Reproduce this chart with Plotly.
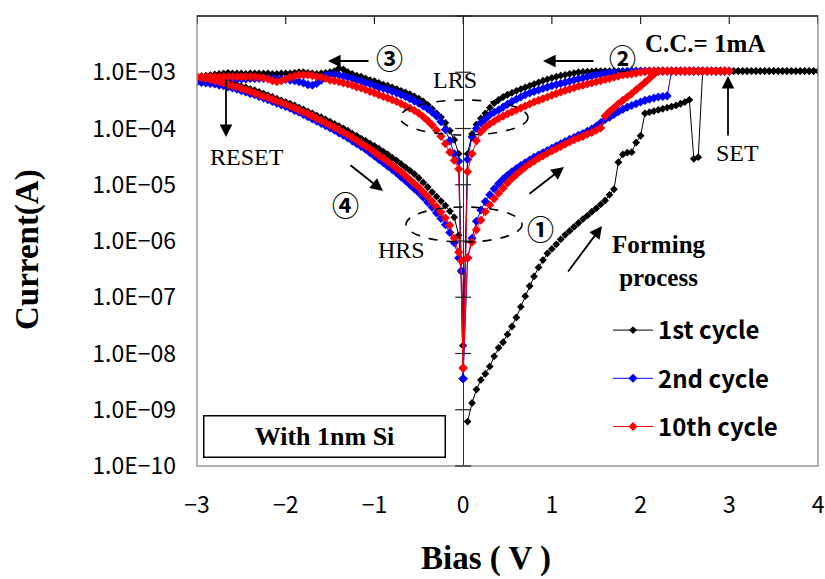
import plotly.graph_objects as go

# ---------------------------------------------------------------------------
# I-V sweeps of the resistive switching cell (with 1 nm Si).
# Each segment is a list of (bias [V], log10(current [A])) pairs,
# listed in measurement order.
# ---------------------------------------------------------------------------

# 1st cycle: forming sweep 0 -> 4 V, LRS return, negative LRS sweep, HRS return
FORMING_1ST = [
    (0.05, -9.21), (0.10, -8.88), (0.15, -8.64), (0.20, -8.47), (0.25, -8.36), (0.30, -8.23),
    (0.35, -8.05), (0.40, -7.90), (0.45, -7.80), (0.50, -7.66), (0.55, -7.52), (0.60, -7.36),
    (0.65, -7.17), (0.70, -6.98), (0.75, -6.80), (0.80, -6.63), (0.85, -6.47), (0.90, -6.34),
    (0.95, -6.22), (1.00, -6.14), (1.05, -6.06), (1.10, -5.97), (1.15, -5.89), (1.20, -5.82),
    (1.25, -5.75), (1.30, -5.68), (1.35, -5.61), (1.40, -5.55), (1.45, -5.48), (1.50, -5.42),
    (1.55, -5.35), (1.60, -5.28), (1.65, -5.18), (1.70, -5.08), (1.75, -4.60), (1.80, -4.46),
    (1.85, -4.43), (1.90, -4.42), (1.95, -4.25), (2.00, -4.13), (2.05, -3.73), (2.10, -3.71),
    (2.15, -3.69), (2.20, -3.67), (2.25, -3.65), (2.30, -3.63), (2.35, -3.61), (2.40, -3.59),
    (2.45, -3.56), (2.50, -3.53), (2.55, -3.49), (2.60, -4.54), (2.65, -4.51), (2.70, -2.98),
    (2.75, -2.98), (2.80, -2.98), (2.85, -2.98), (2.90, -2.98), (2.95, -2.98), (3.00, -2.98),
    (3.05, -2.98), (3.10, -2.98), (3.15, -2.98), (3.20, -2.98), (3.25, -2.98), (3.30, -2.98),
    (3.35, -2.98), (3.40, -2.98), (3.45, -2.98), (3.50, -2.98), (3.55, -2.98), (3.60, -2.98),
    (3.65, -2.98), (3.70, -2.98), (3.75, -2.98), (3.80, -2.98), (3.85, -2.98), (3.90, -2.98),
    (3.95, -2.98), (4.00, -2.98),
]
LRS_POS_1ST = [
    (3.95, -2.98), (3.90, -2.98), (3.85, -2.98), (3.80, -2.98), (3.75, -2.98), (3.70, -2.98),
    (3.65, -2.98), (3.60, -2.98), (3.55, -2.98), (3.50, -2.98), (3.45, -2.98), (3.40, -2.98),
    (3.35, -2.98), (3.30, -2.98), (3.25, -2.98), (3.20, -2.98), (3.15, -2.98), (3.10, -2.98),
    (3.05, -2.98), (3.00, -2.98), (2.95, -2.98), (2.90, -2.98), (2.85, -2.98), (2.80, -2.98),
    (2.75, -2.98), (2.70, -2.98), (2.65, -2.98), (2.60, -2.98), (2.55, -2.98), (2.50, -2.98),
    (2.45, -2.98), (2.40, -2.98), (2.35, -2.98), (2.30, -2.98), (2.25, -2.98), (2.20, -2.98),
    (2.15, -2.98), (2.10, -2.98), (2.05, -2.98), (2.00, -2.98), (1.95, -2.98), (1.90, -2.98),
    (1.85, -2.98), (1.80, -2.98), (1.75, -2.98), (1.70, -2.98), (1.65, -2.98), (1.60, -2.98),
    (1.55, -2.98), (1.50, -2.98), (1.45, -2.985), (1.40, -2.99), (1.35, -2.995), (1.30, -3.00),
    (1.25, -3.015), (1.20, -3.03), (1.15, -3.045), (1.10, -3.06), (1.05, -3.08), (1.00, -3.10),
    (0.95, -3.125), (0.90, -3.15), (0.85, -3.18), (0.80, -3.21), (0.75, -3.24), (0.70, -3.27),
    (0.65, -3.30), (0.60, -3.33), (0.55, -3.365), (0.50, -3.40), (0.45, -3.44), (0.40, -3.49),
    (0.35, -3.55), (0.30, -3.63), (0.25, -3.73), (0.20, -3.82), (0.15, -3.93), (0.10, -4.10),
    (0.05, -4.45), (0.00, -7.86),
]
LRS_NEG_1ST = [
    (-0.05, -4.45), (-0.10, -4.20), (-0.15, -4.04), (-0.20, -3.90), (-0.25, -3.80), (-0.30, -3.73),
    (-0.35, -3.65), (-0.40, -3.58), (-0.45, -3.52), (-0.50, -3.47), (-0.55, -3.43), (-0.60, -3.39),
    (-0.65, -3.36), (-0.70, -3.33), (-0.75, -3.30), (-0.80, -3.27), (-0.85, -3.24), (-0.90, -3.22),
    (-0.95, -3.19), (-1.00, -3.16), (-1.05, -3.14), (-1.10, -3.11), (-1.15, -3.08), (-1.20, -3.06),
    (-1.25, -3.03), (-1.30, -3.00), (-1.35, -2.95), (-1.40, -2.93), (-1.45, -2.98), (-1.50, -3.00),
    (-1.55, -3.01), (-1.60, -3.02), (-1.65, -3.03), (-1.70, -3.02), (-1.75, -3.01), (-1.80, -3.00),
    (-1.85, -3.00), (-1.90, -3.01), (-1.95, -3.02), (-2.00, -3.02), (-2.05, -3.02), (-2.10, -3.03),
    (-2.15, -3.03), (-2.20, -3.02), (-2.25, -3.02), (-2.30, -3.02), (-2.35, -3.02), (-2.40, -3.02),
    (-2.45, -3.03), (-2.50, -3.02), (-2.55, -3.02), (-2.60, -3.02), (-2.65, -3.01), (-2.70, -3.02),
    (-2.75, -3.03), (-2.80, -3.04), (-2.85, -3.05), (-2.90, -3.06), (-2.95, -3.07), (-3.00, -3.08),
]
HRS_NEG_1ST = [
    (-3.00, -3.08), (-2.95, -3.09), (-2.90, -3.10), (-2.85, -3.11), (-2.80, -3.13), (-2.75, -3.14),
    (-2.70, -3.16), (-2.65, -3.18), (-2.60, -3.20), (-2.55, -3.22), (-2.50, -3.25), (-2.45, -3.27),
    (-2.40, -3.30), (-2.35, -3.32), (-2.30, -3.35), (-2.25, -3.38), (-2.20, -3.41), (-2.15, -3.44),
    (-2.10, -3.47), (-2.05, -3.50), (-2.00, -3.53), (-1.95, -3.56), (-1.90, -3.59), (-1.85, -3.63),
    (-1.80, -3.66), (-1.75, -3.70), (-1.70, -3.73), (-1.65, -3.77), (-1.60, -3.80), (-1.55, -3.84),
    (-1.50, -3.88), (-1.45, -3.92), (-1.40, -3.96), (-1.35, -4.00), (-1.30, -4.04), (-1.25, -4.09),
    (-1.20, -4.13), (-1.15, -4.18), (-1.10, -4.22), (-1.05, -4.27), (-1.00, -4.31), (-0.95, -4.36),
    (-0.90, -4.41), (-0.85, -4.46), (-0.80, -4.52), (-0.75, -4.57), (-0.70, -4.63), (-0.65, -4.69),
    (-0.60, -4.75), (-0.55, -4.81), (-0.50, -4.88), (-0.45, -4.96), (-0.40, -5.04), (-0.35, -5.13),
    (-0.30, -5.21), (-0.25, -5.29), (-0.20, -5.37), (-0.15, -5.47), (-0.10, -5.58), (-0.05, -5.90),
    (-0.02, -6.55), (0.00, -7.86),
]

# 2nd cycle
HRS_POS_2ND = [
    (0.00, -8.45), (0.05, -6.30), (0.10, -5.95), (0.15, -5.65), (0.20, -5.45), (0.25, -5.30),
    (0.30, -5.18), (0.35, -5.07), (0.40, -4.98), (0.45, -4.90), (0.50, -4.83), (0.55, -4.77),
    (0.60, -4.71), (0.65, -4.66), (0.70, -4.61), (0.75, -4.56), (0.80, -4.51), (0.85, -4.47),
    (0.90, -4.43), (0.95, -4.39), (1.00, -4.35), (1.05, -4.31), (1.10, -4.27), (1.15, -4.23),
    (1.20, -4.19), (1.25, -4.16), (1.30, -4.12), (1.35, -4.09), (1.40, -4.05), (1.45, -4.01),
    (1.50, -3.96), (1.55, -3.90), (1.60, -3.84), (1.65, -3.80), (1.70, -3.75), (1.75, -3.70),
    (1.80, -3.66), (1.85, -3.62), (1.90, -3.59), (1.95, -3.56), (2.00, -3.53), (2.05, -3.50),
    (2.10, -3.48), (2.15, -3.46), (2.20, -3.44), (2.25, -3.43), (2.30, -3.42), (2.35, -2.98),
    (2.40, -2.98), (2.45, -2.98), (2.50, -2.98), (2.55, -2.98), (2.60, -2.98), (2.65, -2.98),
    (2.70, -2.98), (2.75, -2.98), (2.80, -2.98), (2.85, -2.98), (2.90, -2.98), (2.95, -2.98),
    (3.00, -2.98),
]
LRS_POS_2ND = [
    (2.95, -2.98), (2.90, -2.98), (2.85, -2.98), (2.80, -2.98), (2.75, -2.98), (2.70, -2.98),
    (2.65, -2.98), (2.60, -2.98), (2.55, -2.98), (2.50, -2.98), (2.45, -2.98), (2.40, -2.98),
    (2.35, -2.98), (2.30, -2.98), (2.25, -2.98), (2.20, -2.98), (2.15, -2.98), (2.10, -2.98),
    (2.05, -2.98), (2.00, -2.98), (1.95, -2.98), (1.90, -2.98), (1.85, -2.985), (1.80, -2.99),
    (1.75, -2.995), (1.70, -3.00), (1.65, -3.01), (1.60, -3.02), (1.55, -3.035), (1.50, -3.05),
    (1.45, -3.065), (1.40, -3.08), (1.35, -3.10), (1.30, -3.12), (1.25, -3.14), (1.20, -3.16),
    (1.15, -3.18), (1.10, -3.20), (1.05, -3.22), (1.00, -3.24), (0.95, -3.265), (0.90, -3.29),
    (0.85, -3.315), (0.80, -3.34), (0.75, -3.37), (0.70, -3.40), (0.65, -3.44), (0.60, -3.48),
    (0.55, -3.52), (0.50, -3.57), (0.45, -3.62), (0.40, -3.67), (0.35, -3.71), (0.30, -3.76),
    (0.25, -3.83), (0.20, -3.90), (0.15, -4.00), (0.10, -4.15), (0.05, -4.55), (0.00, -8.45),
]
LRS_NEG_2ND = [
    (-0.05, -4.58), (-0.10, -4.45), (-0.15, -4.22), (-0.20, -4.02), (-0.25, -3.88), (-0.30, -3.78),
    (-0.35, -3.71), (-0.40, -3.65), (-0.45, -3.60), (-0.50, -3.55), (-0.55, -3.51), (-0.60, -3.47),
    (-0.65, -3.43), (-0.70, -3.40), (-0.75, -3.37), (-0.80, -3.34), (-0.85, -3.31), (-0.90, -3.29),
    (-0.95, -3.27), (-1.00, -3.24), (-1.05, -3.21), (-1.10, -3.19), (-1.15, -3.16), (-1.20, -3.14),
    (-1.25, -3.11), (-1.30, -3.09), (-1.35, -3.07), (-1.40, -3.05), (-1.45, -3.04), (-1.50, -3.04),
    (-1.55, -3.06), (-1.60, -3.14), (-1.65, -3.20), (-1.70, -3.23), (-1.75, -3.22), (-1.80, -3.19),
    (-1.85, -3.17), (-1.90, -3.15), (-1.95, -3.14), (-2.00, -3.13), (-2.05, -3.12), (-2.10, -3.12),
    (-2.15, -3.11), (-2.20, -3.11), (-2.25, -3.11), (-2.30, -3.11), (-2.35, -3.11), (-2.40, -3.11),
    (-2.45, -3.12), (-2.50, -3.12), (-2.55, -3.12), (-2.60, -3.12), (-2.65, -3.13), (-2.70, -3.13),
    (-2.75, -3.14), (-2.80, -3.14), (-2.85, -3.15), (-2.90, -3.15), (-2.95, -3.16), (-3.00, -3.17),
]
HRS_NEG_2ND = [
    (-3.00, -3.17), (-2.95, -3.18), (-2.90, -3.19), (-2.85, -3.20), (-2.80, -3.21), (-2.75, -3.23),
    (-2.70, -3.24), (-2.65, -3.26), (-2.60, -3.28), (-2.55, -3.30), (-2.50, -3.33), (-2.45, -3.35),
    (-2.40, -3.38), (-2.35, -3.40), (-2.30, -3.43), (-2.25, -3.46), (-2.20, -3.49), (-2.15, -3.52),
    (-2.10, -3.55), (-2.05, -3.58), (-2.00, -3.61), (-1.95, -3.64), (-1.90, -3.68), (-1.85, -3.71),
    (-1.80, -3.75), (-1.75, -3.79), (-1.70, -3.83), (-1.65, -3.87), (-1.60, -3.91), (-1.55, -3.95),
    (-1.50, -3.99), (-1.45, -4.03), (-1.40, -4.08), (-1.35, -4.12), (-1.30, -4.17), (-1.25, -4.22),
    (-1.20, -4.27), (-1.15, -4.32), (-1.10, -4.37), (-1.05, -4.43), (-1.00, -4.49), (-0.95, -4.55),
    (-0.90, -4.61), (-0.85, -4.67), (-0.80, -4.73), (-0.75, -4.79), (-0.70, -4.86), (-0.65, -4.93),
    (-0.60, -5.00), (-0.55, -5.07), (-0.50, -5.14), (-0.45, -5.22), (-0.40, -5.31), (-0.35, -5.40),
    (-0.30, -5.50), (-0.25, -5.60), (-0.20, -5.71), (-0.15, -5.85), (-0.10, -6.03), (-0.05, -6.30),
    (-0.02, -6.53), (0.00, -8.45),
]

# 10th cycle
HRS_POS_10TH = [
    (0.00, -8.26), (0.05, -6.30), (0.10, -6.02), (0.15, -5.80), (0.20, -5.63), (0.25, -5.48),
    (0.30, -5.36), (0.35, -5.25), (0.40, -5.15), (0.45, -5.06), (0.50, -4.97), (0.55, -4.89),
    (0.60, -4.82), (0.65, -4.75), (0.70, -4.69), (0.75, -4.63), (0.80, -4.58), (0.85, -4.53),
    (0.90, -4.49), (0.95, -4.44), (1.00, -4.40), (1.05, -4.36), (1.10, -4.32), (1.15, -4.28),
    (1.20, -4.24), (1.25, -4.20), (1.30, -4.17), (1.35, -4.14), (1.40, -4.10), (1.45, -4.07),
    (1.50, -4.03), (1.55, -3.99), (1.60, -3.78), (1.65, -3.70), (1.70, -3.63), (1.75, -3.56),
    (1.80, -3.50), (1.85, -3.44), (1.90, -3.38), (1.95, -3.31), (2.00, -3.25), (2.05, -3.18),
    (2.10, -3.11), (2.15, -3.04), (2.20, -2.98), (2.25, -2.98), (2.30, -2.98), (2.35, -2.98),
    (2.40, -2.98), (2.45, -2.98), (2.50, -2.98), (2.55, -2.98), (2.60, -2.98), (2.65, -2.98),
    (2.70, -2.98), (2.75, -2.98), (2.80, -2.98), (2.85, -2.98), (2.90, -2.98), (2.95, -2.98),
    (3.00, -2.98),
]
LRS_POS_10TH = [
    (2.95, -2.98), (2.90, -2.98), (2.85, -2.98), (2.80, -2.98), (2.75, -2.98), (2.70, -2.98),
    (2.65, -2.98), (2.60, -2.98), (2.55, -2.98), (2.50, -2.98), (2.45, -2.98), (2.40, -2.98),
    (2.35, -2.98), (2.30, -2.98), (2.25, -2.98), (2.20, -2.98), (2.15, -2.98), (2.10, -2.98),
    (2.05, -2.99), (2.00, -3.00), (1.95, -3.015), (1.90, -3.03), (1.85, -3.04), (1.80, -3.05),
    (1.75, -3.07), (1.70, -3.09), (1.65, -3.11), (1.60, -3.13), (1.55, -3.15), (1.50, -3.17),
    (1.45, -3.19), (1.40, -3.21), (1.35, -3.23), (1.30, -3.25), (1.25, -3.275), (1.20, -3.30),
    (1.15, -3.325), (1.10, -3.35), (1.05, -3.38), (1.00, -3.41), (0.95, -3.44), (0.90, -3.47),
    (0.85, -3.50), (0.80, -3.53), (0.75, -3.565), (0.70, -3.60), (0.65, -3.635), (0.60, -3.67),
    (0.55, -3.705), (0.50, -3.74), (0.45, -3.78), (0.40, -3.82), (0.35, -3.87), (0.30, -3.92),
    (0.25, -3.98), (0.20, -4.06), (0.15, -4.22), (0.10, -4.45), (0.05, -4.77), (0.00, -8.26),
]
LRS_NEG_10TH = [
    (-0.05, -4.72), (-0.10, -4.57), (-0.15, -4.42), (-0.20, -4.27), (-0.25, -4.14), (-0.30, -4.03),
    (-0.35, -3.94), (-0.40, -3.86), (-0.45, -3.79), (-0.50, -3.73), (-0.55, -3.68), (-0.60, -3.64),
    (-0.65, -3.60), (-0.70, -3.56), (-0.75, -3.52), (-0.80, -3.49), (-0.85, -3.46), (-0.90, -3.43),
    (-0.95, -3.40), (-1.00, -3.37), (-1.05, -3.34), (-1.10, -3.31), (-1.15, -3.28), (-1.20, -3.26),
    (-1.25, -3.23), (-1.30, -3.21), (-1.35, -3.19), (-1.40, -3.17), (-1.45, -3.15), (-1.50, -3.14),
    (-1.55, -3.11), (-1.60, -3.09), (-1.65, -3.08), (-1.70, -3.06), (-1.75, -3.05), (-1.80, -3.05),
    (-1.85, -3.05), (-1.90, -3.07), (-1.95, -3.09), (-2.00, -3.12), (-2.05, -3.15), (-2.10, -3.17),
    (-2.15, -3.15), (-2.20, -3.12), (-2.25, -3.10), (-2.30, -3.09), (-2.35, -3.08), (-2.40, -3.08),
    (-2.45, -3.08), (-2.50, -3.08), (-2.55, -3.08), (-2.60, -3.08), (-2.65, -3.08), (-2.70, -3.08),
    (-2.75, -3.08), (-2.80, -3.08), (-2.85, -3.08), (-2.90, -3.08), (-2.95, -3.08), (-3.00, -3.08),
]
HRS_NEG_10TH = [
    (-3.00, -3.08), (-2.95, -3.10), (-2.90, -3.11), (-2.85, -3.13), (-2.80, -3.15), (-2.75, -3.17),
    (-2.70, -3.19), (-2.65, -3.22), (-2.60, -3.24), (-2.55, -3.26), (-2.50, -3.29), (-2.45, -3.31),
    (-2.40, -3.34), (-2.35, -3.37), (-2.30, -3.40), (-2.25, -3.43), (-2.20, -3.45), (-2.15, -3.48),
    (-2.10, -3.51), (-2.05, -3.54), (-2.00, -3.57), (-1.95, -3.61), (-1.90, -3.64), (-1.85, -3.67),
    (-1.80, -3.71), (-1.75, -3.74), (-1.70, -3.78), (-1.65, -3.82), (-1.60, -3.86), (-1.55, -3.90),
    (-1.50, -3.94), (-1.45, -3.98), (-1.40, -4.02), (-1.35, -4.07), (-1.30, -4.11), (-1.25, -4.16),
    (-1.20, -4.21), (-1.15, -4.26), (-1.10, -4.31), (-1.05, -4.36), (-1.00, -4.42), (-0.95, -4.48),
    (-0.90, -4.53), (-0.85, -4.59), (-0.80, -4.65), (-0.75, -4.71), (-0.70, -4.77), (-0.65, -4.84),
    (-0.60, -4.91), (-0.55, -4.98), (-0.50, -5.05), (-0.45, -5.13), (-0.40, -5.21), (-0.35, -5.30),
    (-0.30, -5.39), (-0.25, -5.49), (-0.20, -5.59), (-0.15, -5.72), (-0.10, -5.95), (-0.05, -6.20),
    (-0.02, -6.35), (0.00, -8.26),
]

SERIES_NAMES = ["1st cycle", "2nd cycle", "10th cycle"]
SERIES_COLORS = ["#000000", "#0000FF", "#FF0000"]
SERIES_SEGMENTS = [
    [FORMING_1ST, LRS_POS_1ST, LRS_NEG_1ST, HRS_NEG_1ST],
    [HRS_POS_2ND, LRS_POS_2ND, LRS_NEG_2ND, HRS_NEG_2ND],
    [HRS_POS_10TH, LRS_POS_10TH, LRS_NEG_10TH, HRS_NEG_10TH],
]

X_TICKS = [-3, -2, -1, 0, 1, 2, 3, 4]
Y_TICK_VALUES = [1e-10, 1e-9, 1e-8, 1e-7, 1e-6, 1e-5, 1e-4, 1e-3, 1e-2]
Y_TICK_TEXT = ["1.0E\u221210", "1.0E\u221209", "1.0E\u221208", "1.0E\u221207", "1.0E\u221206",
               "1.0E\u221205", "1.0E\u221204", "1.0E\u221203", "1.0E\u221202"]
Y_DECADES = [-10, -9, -8, -7, -6, -5, -4, -3, -2]

# ---------------------------------------------------------------------------
# Figure geometry (pixels)
# ---------------------------------------------------------------------------
FIG_W, FIG_H = 825, 579
M_L, M_R, M_T, M_B = 197, 7, 16, 113
PLOT_W = FIG_W - M_L - M_R
PLOT_H = FIG_H - M_T - M_B

GOTHIC = "Noto Sans CJK JP"
SERIF = "Liberation Serif"


def paper(px, py):
    """Convert a pixel position in the page to paper coordinates."""
    return (px - M_L) / PLOT_W, (M_T + PLOT_H - py) / PLOT_H


fig = go.Figure()

for name, color, segments in zip(SERIES_NAMES, SERIES_COLORS, SERIES_SEGMENTS):
    pts = [p for seg in segments for p in seg]
    fig.add_trace(go.Scatter(
        x=[p[0] for p in pts],
        y=[10 ** p[1] for p in pts],
        mode="lines+markers",
        name=name,
        legendgroup=name,
        line=dict(color=color, width=1),
        marker=dict(symbol="diamond", size=6 if color == "#000000" else 7,
                    color=color, line=dict(width=0)),
    ))

shapes = []
# plot frame
shapes.append(dict(type="rect", xref="paper", yref="paper", x0=0, x1=1, y0=0, y1=1,
                   line=dict(color="#9a9a9a", width=1.5), layer="above"))
# top axis line with inward ticks
shapes.append(dict(type="line", xref="paper", yref="paper", x0=0, x1=1, y0=1, y1=1,
                   line=dict(color="#222222", width=1.3), layer="above"))
for xv in X_TICKS:
    shapes.append(dict(type="line", xref="x", yref="paper", ysizemode="pixel", yanchor=1,
                       x0=xv, x1=xv, y0=0, y1=-8, line=dict(color="#222222", width=1.2)))
# cross ticks on the vertical axis at 0 V
for k in Y_DECADES:
    yp = (k - Y_DECADES[0]) / (Y_DECADES[-1] - Y_DECADES[0])
    shapes.append(dict(type="line", xref="x", yref="paper", xsizemode="pixel", xanchor=0,
                       x0=-8, x1=8, y0=yp, y1=yp, line=dict(color="#222222", width=1.2)))
# dashed ellipses marking the LRS and HRS regions
for (l, t, r, b) in [(400, 100, 528, 135), (406, 207, 522, 242)]:
    x0, y0 = paper(l, b)
    x1, y1 = paper(r, t)
    shapes.append(dict(type="circle", xref="paper", yref="paper", x0=x0, x1=x1, y0=y0, y1=y1,
                       line=dict(color="#000000", width=1.6, dash="dash")))

annotations = []


def text(px, py, s, size, family=SERIF, bold=False, **kw):
    x, y = paper(px, py)
    annotations.append(dict(xref="paper", yref="paper", x=x, y=y, text=s, showarrow=False,
                            xanchor="center", yanchor="middle",
                            font=dict(family=family, size=size, color="#000000",
                                      weight="bold" if bold else "normal"), **kw))


def arrow(tail, head):
    x, y = paper(*head)
    annotations.append(dict(xref="paper", yref="paper", x=x, y=y, text="", showarrow=True,
                            ax=tail[0] - head[0], ay=tail[1] - head[1],
                            arrowhead=2, arrowsize=1.4, arrowwidth=1.8, arrowcolor="#000000",
                            standoff=0, startstandoff=0))


text(705, 44, "C.C.= 1mA", 25, bold=True)
text(659, 261, "Forming<br>process", 25, bold=True)
text(455, 80, "LRS", 24)
text(401, 250, "HRS", 24)
text(247, 157, "RESET", 24)
text(737, 153, "SET", 24)
text(324, 436, "With 1nm Si", 26, bold=True,
     bordercolor="#000000", borderwidth=1.5, borderpad=0, width=240, height=40,
     bgcolor="#ffffff")
text(540, 228, "\u2460", 27, family=GOTHIC, bold=True)
text(622, 57, "\u2461", 27, family=GOTHIC, bold=True)
text(389, 57, "\u2462", 27, family=GOTHIC, bold=True)
text(345, 204, "\u2463", 27, family=GOTHIC, bold=True)
text(486, 558, "Bias ( V )", 33, bold=True)
text(27, 250, "Current(A)", 33, bold=True, textangle=-90)

arrow((370, 61), (328, 61))      # 3: negative LRS sweep
arrow((595, 61), (543, 61))      # 2: positive LRS return
arrow((226, 78), (226, 137))     # RESET
arrow((728, 137), (728, 76))     # SET
arrow((349, 164), (383, 191))    # 4: HRS return
arrow((528, 195), (564, 167))    # 1: HRS positive sweep
arrow((567, 273), (602, 226))    # forming

lx, ly = paper(608, 308)

fig.update_layout(
    width=FIG_W, height=FIG_H,
    margin=dict(l=M_L, r=M_R, t=M_T, b=M_B, autoexpand=False),
    paper_bgcolor="#ffffff", plot_bgcolor="#ffffff",
    shapes=shapes, annotations=annotations,
    showlegend=True,
    legend=dict(x=lx, y=ly, xanchor="left", yanchor="top", bgcolor="rgba(0,0,0,0)",
                font=dict(family=GOTHIC, size=24, color="#000000", weight="bold"),
                tracegroupgap=14, itemwidth=40),
    xaxis=dict(range=[-3, 4], tickvals=X_TICKS, showgrid=False, showline=False, ticks="",
               zeroline=True, zerolinecolor="#333333", zerolinewidth=1.3, automargin=False,
               tickfont=dict(family=GOTHIC, size=23, color="#000000"),
               ticklabelstandoff=23),
    yaxis=dict(type="log", range=[-10, -2], tickvals=Y_TICK_VALUES, ticktext=Y_TICK_TEXT,
               showgrid=False, showline=False, ticks="", zeroline=False, automargin=False,
               tickfont=dict(family=GOTHIC, size=23, color="#000000"),
               ticklabelstandoff=20),
)

fig.write_html("out.html")
